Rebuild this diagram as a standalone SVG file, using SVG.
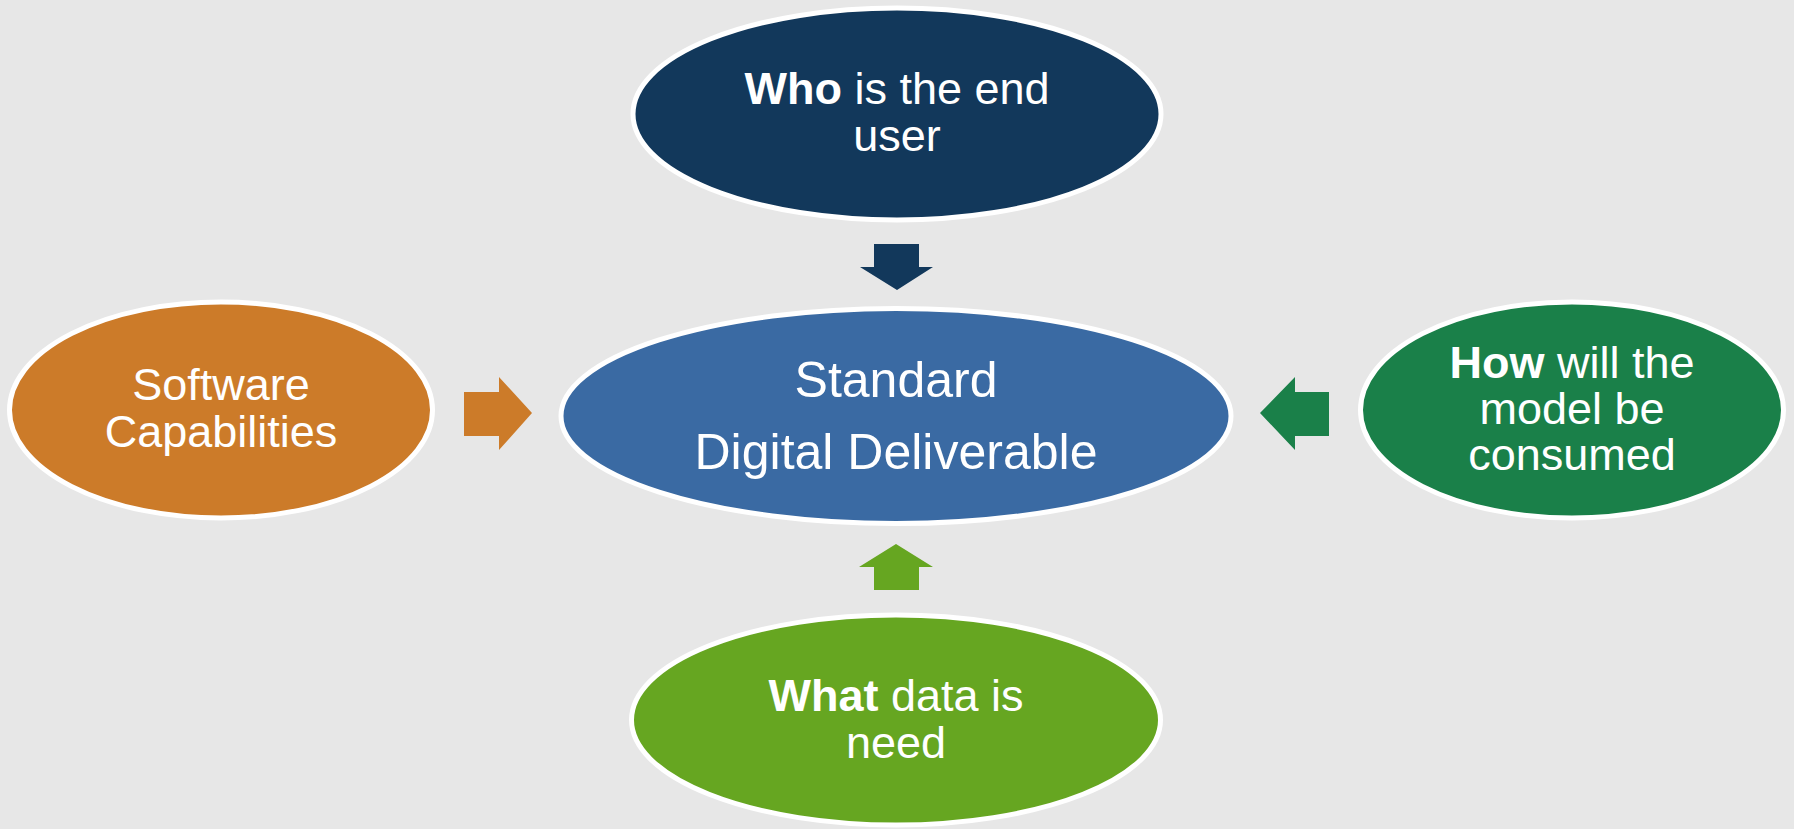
<svg xmlns="http://www.w3.org/2000/svg" width="1794" height="829" viewBox="0 0 1794 829">
<style>
.node{stroke:#FFFFFF;stroke-width:5}
.t{font-family:"Liberation Sans",Arial,sans-serif;fill:#FFFFFF;text-anchor:middle;font-size:45px}
.c{font-size:50px}
.b{font-weight:bold}
</style>
<rect x="0" y="0" width="1794" height="829" fill="#E7E7E7"/>
<g id="connectors">
<polygon id="arrow-top" fill="#12385B" points="874,244 919,244 919,267 933,267 897,290 860,267 874,267"/>
<polygon id="arrow-bottom" fill="#66A621" points="896,544 933,567 919,567 919,590 874,590 874,567 859,567"/>
<polygon id="arrow-left" fill="#CC7B29" points="464,392 499,392 499,377 532,413 499,450 499,436 464,436"/>
<polygon id="arrow-right" fill="#1A8049" points="1260,413 1295,377 1295,392 1329,392 1329,436 1295,436 1295,450"/>
</g>
<g id="node-who">
<ellipse class="node" cx="897" cy="114" rx="264" ry="106" fill="#12385B"/>
<text class="t" x="897" y="104"><tspan class="b">Who</tspan> is the end</text>
<text class="t" x="897" y="151">user</text>
</g>
<g id="node-center">
<ellipse class="node" cx="896" cy="416" rx="335" ry="107.5" fill="#3A6AA3"/>
<text class="t c" x="896" y="397">Standard</text>
<text class="t c" x="896" y="469">Digital Deliverable</text>
</g>
<g id="node-software">
<ellipse class="node" cx="221" cy="410" rx="211.5" ry="108" fill="#CC7B29"/>
<text class="t" x="221" y="400">Software</text>
<text class="t" x="221" y="447">Capabilities</text>
</g>
<g id="node-how">
<ellipse class="node" cx="1572" cy="410" rx="211.5" ry="108" fill="#1A8049"/>
<text class="t" x="1572" y="378"><tspan class="b">How</tspan> will the</text>
<text class="t" x="1572" y="424">model be</text>
<text class="t" x="1572" y="470">consumed</text>
</g>
<g id="node-what">
<ellipse class="node" cx="896" cy="720" rx="264.5" ry="105" fill="#66A621"/>
<text class="t" x="896" y="711"><tspan class="b">What</tspan> data is</text>
<text class="t" x="896" y="758">need</text>
</g>
</svg>
